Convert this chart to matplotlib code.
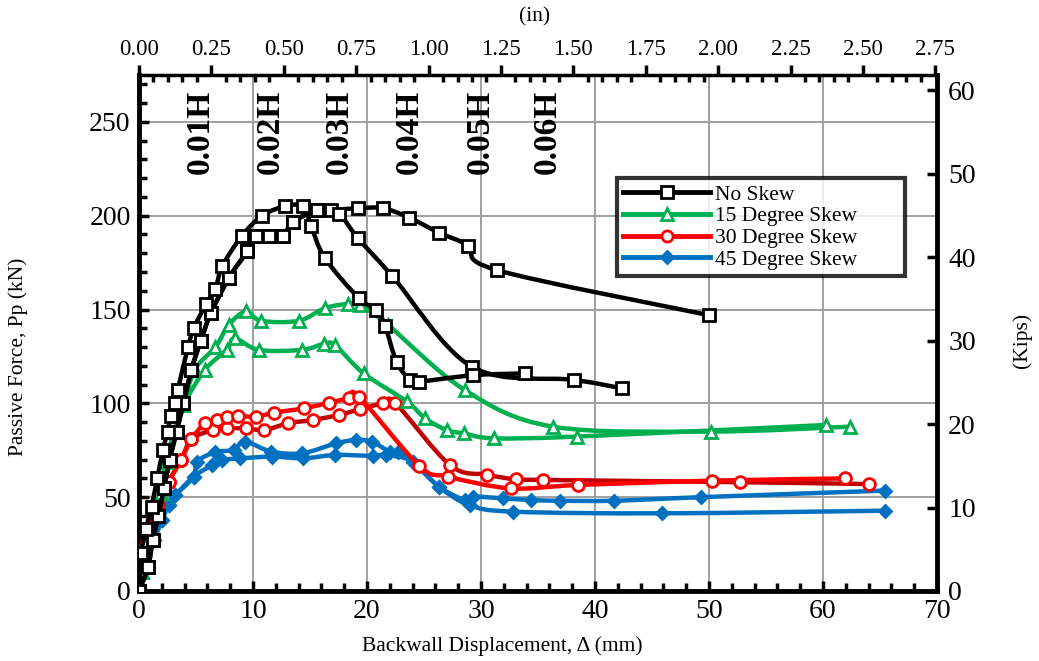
import numpy as np
import matplotlib
matplotlib.use("Agg")
import matplotlib.pyplot as plt
from matplotlib.path import Path
from matplotlib.patches import PathPatch
from matplotlib.lines import Line2D
from matplotlib.ticker import MultipleLocator, FormatStrFormatter

plt.rcParams['font.family'] = ['Liberation Serif', 'DejaVu Serif']

# ---------------- data (mm, kN) ----------------
ns_a_x = [0, 0.8, 1.2, 1.7, 2.2, 2.7, 3.3, 3.9, 4.6, 5.4, 6.3, 7.9, 9.5, 10.3, 11.4, 12.6, 13.5, 15.6, 17.5, 19.2, 22.2, 29.2, 38.2, 42.4]
ns_a_y = [0, 13, 27, 40, 55, 70, 85, 100, 118, 133, 148, 167, 181, 189, 189, 189, 196.5, 203, 201, 188, 168, 119.5, 112.5, 108]
ns_b_x = [0, 0.2, 0.6, 1.1, 1.6, 2.1, 2.5, 2.8, 3.2, 3.4, 4.3, 4.8, 5.9, 6.7, 7.3, 9.0, 10.8, 12.8, 14.4, 15.1, 16.3, 19.3, 20.8, 21.6, 22.6, 23.8, 24.6, 29.3, 33.9]
ns_b_y = [0, 20, 33, 45, 60, 75, 85, 93, 100, 107, 130, 140, 153, 161, 173, 189, 200, 205, 205, 194.5, 177.5, 156, 150, 141, 122, 112.5, 111.6, 115, 116]
ns_c_x = [0, 0.8, 1.2, 1.7, 2.2, 2.7, 3.3, 3.9, 4.6, 5.4, 6.3, 7.9, 9.5, 10.3, 11.4, 12.6, 13.5, 15.6, 16.8, 19.2, 21.4, 23.7, 26.3, 28.9, 31.4, 50.0]
ns_c_y = [0, 13, 27, 40, 55, 70, 85, 100, 118, 133, 148, 167, 181, 189, 189, 189, 196.5, 203, 203, 204, 204, 199, 191, 184, 171, 147]

s15_a_x = [0, 0.3, 1.0, 1.9, 2.4, 3.1, 3.9, 4.9, 6.7, 7.9, 9.4, 10.7, 14.0, 16.3, 18.3, 19.4, 21.8, 28.6, 36.3, 50.2, 62.4]
s15_a_y = [0, 10, 30, 52, 69, 85, 99, 118, 130, 142, 149, 144, 144, 150.7, 153, 152.5, 142, 107, 87.6, 85, 87.6]
s15_b_x = [0, 0.3, 1.0, 1.9, 2.4, 3.1, 3.9, 5.8, 7.7, 8.4, 10.5, 14.3, 16.2, 17.2, 19.7, 23.5, 25.1, 27.0, 28.5, 31.1, 38.4, 60.3]
s15_b_y = [0, 10, 30, 52, 69, 85, 99, 118, 128.5, 134.7, 128.5, 128.5, 131.7, 131, 116, 101, 92, 85.8, 84, 81.4, 82.3, 88.5]

s30_a_x = [0, 0.1, 0.7, 1.7, 2.6, 3.7, 4.6, 5.8, 6.8, 7.7, 8.7, 10.3, 11.8, 14.5, 16.7, 18.4, 19.3, 24.6, 27.1, 32.6, 38.5, 50.3, 61.9]
s30_a_y = [0, 20, 32.5, 45.8, 58.3, 69.8, 80.9, 89.4, 91.2, 92.9, 93.3, 92.9, 95, 97.4, 100.4, 102.7, 103.6, 66.6, 61, 54.7, 56.5, 58.8, 60]
s30_b_x = [0, 0.1, 0.7, 1.7, 2.6, 3.7, 4.6, 6.5, 7.7, 9.4, 11.0, 13.1, 15.3, 17.5, 19.4, 21.4, 22.5, 27.3, 30.5, 33.1, 35.4, 52.7, 64.0]
s30_b_y = [0, 20, 32.5, 45.8, 58.3, 69.8, 80.9, 85.8, 86.7, 86.7, 85.8, 89.4, 91.2, 93.8, 96.9, 100, 100, 67, 62, 59.5, 59.2, 58, 57]

s45_a_x = [0, 0.4, 1.3, 2.0, 2.6, 3.2, 4.8, 5.1, 6.7, 8.3, 9.3, 11.6, 14.3, 17.3, 19.0, 20.4, 22.0, 22.7, 24.0, 26.3, 29.0, 32.8, 45.9, 65.4]
s45_a_y = [0, 15.6, 27, 37.8, 45.8, 51, 61, 69, 74, 75.2, 79.6, 74.3, 73.4, 78.7, 80.5, 79.6, 74.3, 74.3, 69, 55.6, 45.8, 42.3, 41.4, 42.8]
s45_b_x = [0, 0.7, 1.3, 2.0, 2.6, 3.2, 4.8, 6.4, 7.3, 8.9, 11.7, 14.4, 17.2, 20.5, 21.7, 24.0, 26.3, 28.6, 29.3, 31.9, 34.4, 36.9, 41.7, 49.3, 65.4]
s45_b_y = [0, 15, 27, 37.8, 45.8, 51, 61, 67, 69.8, 70.7, 71.6, 70.7, 72.5, 72, 72.5, 69, 55.6, 48.5, 50.3, 49.4, 48.5, 48.1, 48.1, 50, 53.5]

legend_labels = ["No Skew", "15 Degree Skew", "30 Degree Skew", "45 Degree Skew"]
h_labels = ["0.01H", "0.02H", "0.03H", "0.04H", "0.05H", "0.06H"]
h_label_x = [5.41, 11.5, 17.6, 23.7, 29.9, 35.8]
h_label_y = 244.7

KN_PER_KIP = 4.448
MM_PER_IN = 25.4

# ---------------- figure ----------------
W, H = 1039, 661
fig = plt.figure(figsize=(W / 100, H / 100), dpi=100)
ax = fig.add_axes([139 / W, 1 - 591 / H, (937 - 139) / W, (591 - 75) / H])
ax.set_xlim(0, 70)
ax.set_ylim(0, 275)


def smooth_path(xs, ys):
    p = np.column_stack([xs, ys]).astype(float)
    n = len(p)
    verts = [p[0]]
    codes = [Path.MOVETO]
    for i in range(n - 1):
        p0 = p[i - 1] if i > 0 else p[i]
        p1 = p[i]
        p2 = p[i + 1]
        p3 = p[i + 2] if i + 2 < n else p[i + 1]
        c1 = p1 + (p2 - p0) / 6.0
        c2 = p2 - (p3 - p1) / 6.0
        verts += [c1, c2, p2]
        codes += [Path.CURVE4] * 3
    return Path(verts, codes)


def draw(xs, ys, lc, marker, mfc, mec, ms, lw=3.2, mew=2.0, z=3):
    patch = PathPatch(smooth_path(xs, ys), fill=False, edgecolor=lc, lw=lw,
                      capstyle='round', joinstyle='round', zorder=z)
    ax.add_patch(patch)
    ax.plot(xs, ys, ls='none', marker=marker, mfc=mfc, mec=mec, ms=ms, mew=mew, zorder=z + 0.1)


BLACK = 'black'
GREEN = '#00B050'
RED = '#FF0000'
DRED = '#C00000'
BLUE = '#0070C0'

draw(s45_a_x, s45_a_y, BLUE, 'D', BLUE, BLUE, 6.5, z=3)
draw(s45_b_x, s45_b_y, BLUE, 'D', BLUE, BLUE, 6.5, z=3)
draw(s30_b_x, s30_b_y, DRED, 'o', 'white', RED, 8.5, z=4)
draw(s30_a_x, s30_a_y, RED, 'o', 'white', RED, 8.5, z=4)
draw(s15_a_x, s15_a_y, GREEN, '^', 'white', GREEN, 8.5, z=5)
draw(s15_b_x, s15_b_y, GREEN, '^', 'white', GREEN, 8.5, z=5)
draw(ns_c_x, ns_c_y, BLACK, 's', 'white', BLACK, 8.5, z=6)
draw(ns_a_x, ns_a_y, BLACK, 's', 'white', BLACK, 8.5, z=6)
draw(ns_b_x, ns_b_y, BLACK, 's', 'white', BLACK, 8.5, z=6)

# grid
ax.xaxis.set_major_locator(MultipleLocator(10))
ax.xaxis.set_minor_locator(MultipleLocator(2))
ax.yaxis.set_major_locator(MultipleLocator(50))
ax.yaxis.set_minor_locator(MultipleLocator(10))
ax.grid(True, which='major', color='#A0A0A0', lw=1.4, zorder=0)
ax.set_axisbelow(True)

for s in ['left', 'bottom', 'right']:
    ax.spines[s].set_linewidth(3.5)
ax.spines['top'].set_linewidth(2.5)

ax.tick_params(axis='both', which='both', direction='in', width=2.5, labelsize=20, pad=6)
ax.tick_params(axis='both', which='major', length=7)
ax.tick_params(axis='both', which='minor', length=6)

# right axis (kips)
axr = ax.twinx()
axr.set_ylim(0, 275 / KN_PER_KIP)
axr.yaxis.set_major_locator(MultipleLocator(10))
axr.tick_params(axis='y', which='major', direction='in', length=7, width=2.5, labelsize=20, pad=8)
for s in axr.spines.values():
    s.set_visible(False)

# top axis (in)
axt = ax.twiny()
axt.set_xlim(0, 70 / MM_PER_IN)
axt.xaxis.set_major_locator(MultipleLocator(0.25))
axt.xaxis.set_minor_locator(MultipleLocator(0.05))
axt.xaxis.set_major_formatter(FormatStrFormatter('%.2f'))
axt.tick_params(axis='x', which='major', direction='out', length=7, width=2.5, labelsize=16.5, pad=4)
axt.tick_params(axis='x', which='minor', direction='in', length=5, width=2.5)
for s in axt.spines.values():
    s.set_visible(False)

# H labels
for lx, lab in zip(h_label_x, h_labels):
    ax.text(lx, h_label_y, lab, rotation=90, ha='center', va='center',
            fontsize=24, fontweight='bold', zorder=7)

# axis titles
fig.text(18 / W, 1 - 357 / H, "Passive Force, Pp (kN)", rotation=90, ha='center', va='center', fontsize=15.5)
fig.text(1022 / W, 1 - 340 / H, "(Kips)", rotation=90, ha='center', va='center', fontsize=15.5)
fig.text(535 / W, 1 - 17 / H, "(in)", ha='center', va='center', fontsize=15.5)
fig.text(502 / W, 1 - 646 / H, "Backwall Displacement, \u0394 (mm)", ha='center', va='center', fontsize=15.5)

# legend
handles = [
    Line2D([], [], color=BLACK, lw=3.5, marker='s', mfc='white', mec=BLACK, ms=8, mew=2),
    Line2D([], [], color=GREEN, lw=3.5, marker='^', mfc='white', mec=GREEN, ms=8, mew=2),
    Line2D([], [], color=RED, lw=3.5, marker='o', mfc='white', mec=RED, ms=8, mew=2),
    Line2D([], [], color=BLUE, lw=3.5, marker='D', mfc=BLUE, mec=BLUE, ms=6.5, mew=2),
]
leg = ax.legend(handles, legend_labels, loc='upper left', mode='expand',
                bbox_to_anchor=(617 / W, 1 - 275 / H, (905 - 617) / W, (275 - 178) / H),
                bbox_transform=fig.transFigure,
                fontsize=15.5, frameon=True, fancybox=False, handlelength=4.0,
                handletextpad=0.25, labelspacing=0.08, borderpad=0.3, borderaxespad=0)
leg.get_frame().set_edgecolor('black')
leg.get_frame().set_linewidth(3)
leg.set_zorder(10)

fig.savefig("out.png", dpi=100)
